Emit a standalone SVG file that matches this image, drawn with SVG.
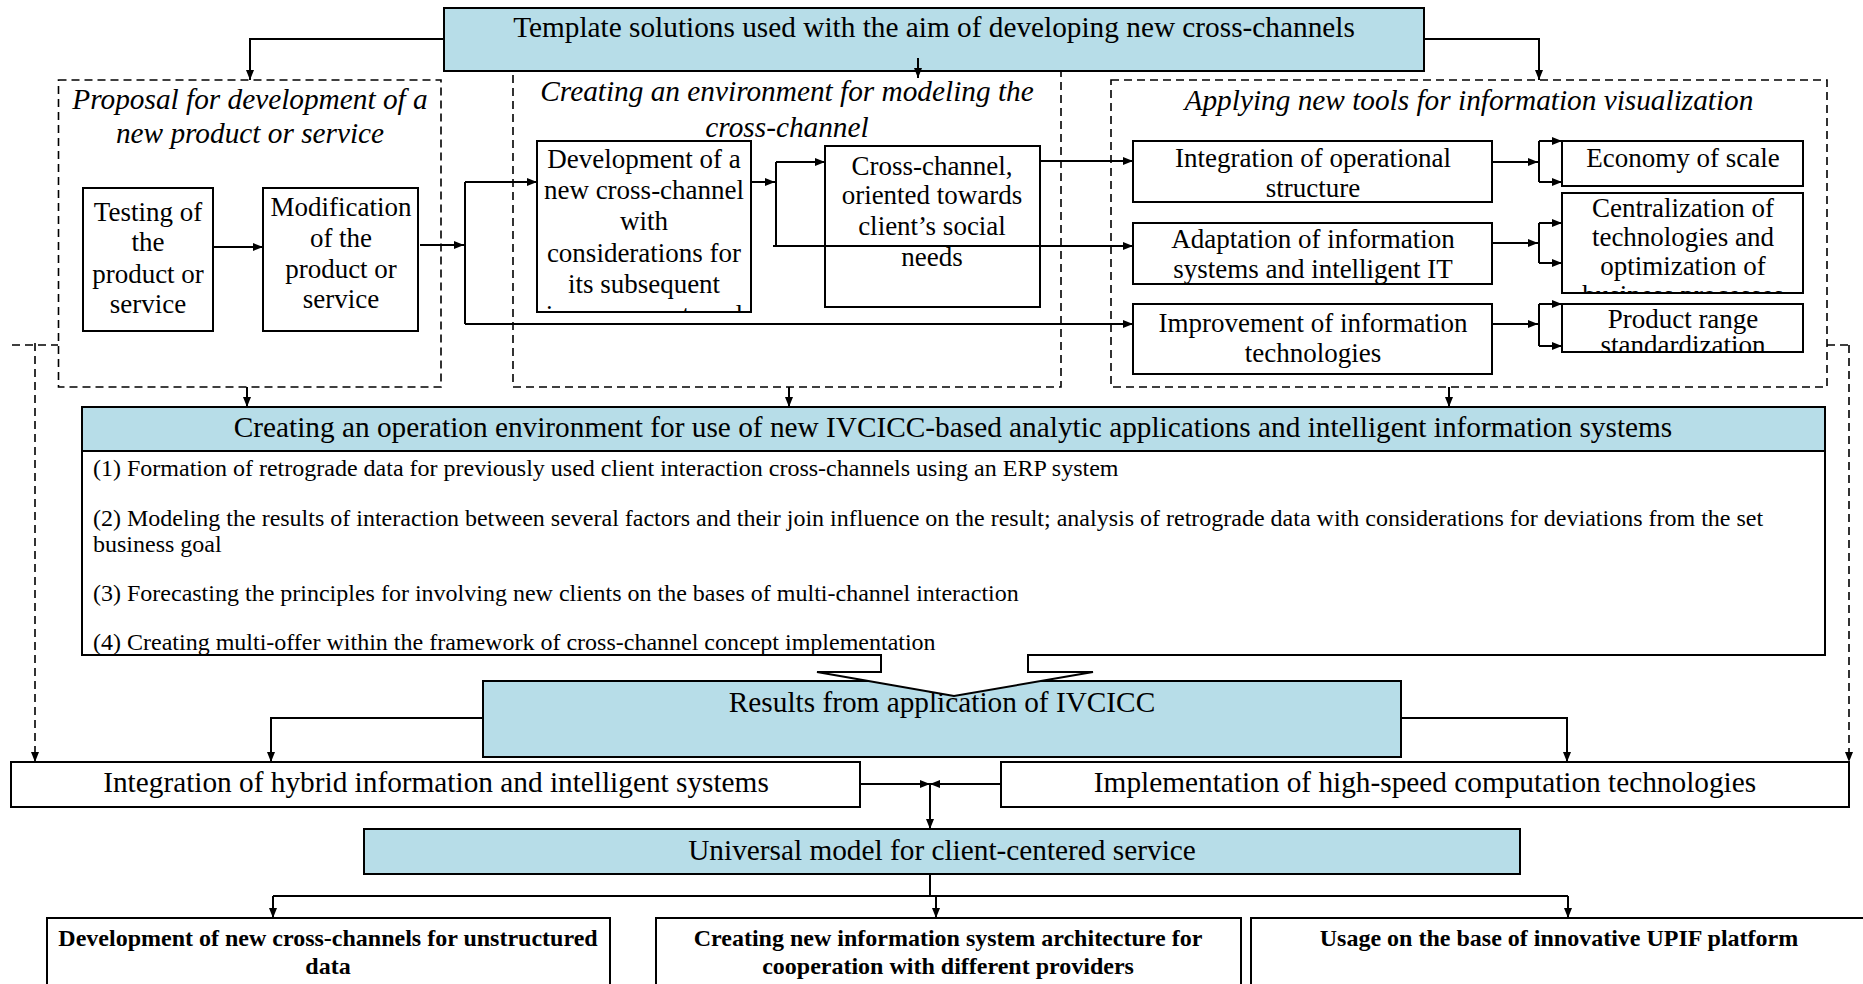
<svg xmlns="http://www.w3.org/2000/svg" width="1863" height="984" viewBox="0 0 1863 984">
<style>
text{font-family:"Liberation Serif","Times New Roman",serif;fill:#000;text-anchor:middle}
.t29{font-size:29.3px}
.t27{font-size:27px}
.i29{font-size:29.3px;font-style:italic}
.t24{font-size:24px;text-anchor:start}
.b24{font-size:24px;font-weight:bold}
.box{fill:#fff;stroke:#000;stroke-width:2}
.blue{fill:#b7dde8;stroke:#000;stroke-width:2}
.dash{fill:none;stroke:#000;stroke-width:1.6;stroke-dasharray:8 5}
.ln{fill:none;stroke:#000;stroke-width:2}
.dl{fill:none;stroke:#000;stroke-width:1.6;stroke-dasharray:8 5}
</style>
<defs>
<marker id="ah" viewBox="0 0 10 8" refX="10" refY="4" markerWidth="10" markerHeight="8" markerUnits="userSpaceOnUse" orient="auto"><path d="M0,0 L10,4 L0,8 z" fill="#000"/></marker>
<clipPath id="cDev"><rect x="537" y="141" width="214" height="171"/></clipPath>
<clipPath id="cAda"><rect x="1133" y="223" width="359" height="61"/></clipPath>
<clipPath id="cCen"><rect x="1562" y="193" width="241" height="100"/></clipPath>
<clipPath id="cPro"><rect x="1562" y="304" width="241" height="48"/></clipPath>
</defs>

<g id="group-proposal">
<rect class="dash" x="58.5" y="80" width="382.5" height="307"/>
<text class="i29" x="250" y="109">Proposal for development of a</text>
<text class="i29" x="250" y="143">new product or service</text>
</g>
<g id="group-environment">
<rect class="dash" x="513" y="71" width="548" height="316"/>
<text class="i29" x="787" y="101">Creating an environment for modeling the</text>
<text class="i29" x="787" y="137">cross-channel</text>
</g>
<g id="group-visualization">
<rect class="dash" x="1111" y="80" width="716" height="307"/>
<text class="i29" x="1469" y="110">Applying new tools for information visualization</text>
</g>

<g id="template">
<rect class="blue" x="444" y="8" width="980" height="63"/>
<text class="t29" x="934" y="37">Template solutions used with the aim of developing new cross-channels</text>
</g>

<g id="testing">
<rect class="box" x="83" y="188" width="130" height="143"/>
<text class="t27" x="148"><tspan x="148" y="221">Testing of</tspan><tspan x="148" y="251">the</tspan><tspan x="148" y="283">product or</tspan><tspan x="148" y="313">service</tspan></text>
</g>
<g id="modification">
<rect class="box" x="263" y="188" width="155" height="143"/>
<text class="t27" x="341"><tspan x="341" y="216">Modification</tspan><tspan x="341" y="247">of the</tspan><tspan x="341" y="278">product or</tspan><tspan x="341" y="308">service</tspan></text>
</g>
<g id="development">
<rect class="box" x="537" y="141" width="214" height="171"/>
<text class="t27" x="644" clip-path="url(#cDev)"><tspan x="644" y="168">Development of a</tspan><tspan x="644" y="199">new cross-channel</tspan><tspan x="644" y="230">with</tspan><tspan x="644" y="262">considerations for</tspan><tspan x="644" y="293">its subsequent</tspan><tspan x="644" y="324">improvement, and</tspan></text>
</g>
<g id="cross-channel">
<rect class="box" x="825" y="146" width="215" height="161"/>
<text class="t27" x="932"><tspan x="932" y="175">Cross-channel,</tspan><tspan x="932" y="204">oriented towards</tspan><tspan x="932" y="235">client’s social</tspan><tspan x="932" y="266">needs</tspan></text>
</g>
<g id="integration-operational">
<rect class="box" x="1133" y="141" width="359" height="61"/>
<text class="t27" x="1313"><tspan x="1313" y="167">Integration of operational</tspan><tspan x="1313" y="197">structure</tspan></text>
</g>
<g id="adaptation">
<rect class="box" x="1133" y="223" width="359" height="61"/>
<text class="t27" x="1313" clip-path="url(#cAda)"><tspan x="1313" y="248">Adaptation of information</tspan><tspan x="1313" y="278">systems and intelligent IT</tspan></text>
</g>
<g id="improvement">
<rect class="box" x="1133" y="304" width="359" height="70"/>
<text class="t27" x="1313"><tspan x="1313" y="332">Improvement of information</tspan><tspan x="1313" y="362">technologies</tspan></text>
</g>
<g id="economy">
<rect class="box" x="1562" y="141" width="241" height="45"/>
<text class="t27" x="1683" y="167">Economy of scale</text>
</g>
<g id="centralization">
<rect class="box" x="1562" y="193" width="241" height="100"/>
<text class="t27" x="1683" clip-path="url(#cCen)"><tspan x="1683" y="217">Centralization of</tspan><tspan x="1683" y="246">technologies and</tspan><tspan x="1683" y="275">optimization of</tspan><tspan x="1683" y="304">business processes</tspan></text>
</g>
<g id="product-range">
<rect class="box" x="1562" y="304" width="241" height="48"/>
<text class="t27" x="1683" clip-path="url(#cPro)"><tspan x="1683" y="328">Product range</tspan><tspan x="1683" y="354">standardization</tspan></text>
</g>

<g id="results">
<rect class="blue" x="483" y="681" width="918" height="76"/>
<text class="t29" x="942" y="712">Results from application of IVCICC</text>
</g>

<g id="operation-environment">
<path class="box" d="M82,451 H1825 V655 H1028 V672 H1093 L954,696 L817,672 H881 V655 H82 Z"/>
<rect class="blue" x="82" y="407" width="1743" height="44"/>
<text class="t29" x="953" y="437">Creating an operation environment for use of new IVCICC-based analytic applications and intelligent information systems</text>
<text class="t24" x="93" y="476">(1) Formation of retrograde data for previously used client interaction cross-channels using an ERP system</text>
<text class="t24" x="93" y="526">(2) Modeling the results of interaction between several factors and their join influence on the result; analysis of retrograde data with considerations for deviations from the set</text>
<text class="t24" x="93" y="552">business goal</text>
<text class="t24" x="93" y="601">(3) Forecasting the principles for involving new clients on the bases of multi-channel interaction</text>
<text class="t24" x="93" y="650">(4) Creating multi-offer within the framework of cross-channel concept implementation</text>
</g>

<g id="integration-hybrid">
<rect class="box" x="11" y="762" width="849" height="45"/>
<text class="t29" x="436" y="792">Integration of hybrid information and intelligent systems</text>
</g>
<g id="implementation">
<rect class="box" x="1001" y="762" width="848" height="45"/>
<text class="t29" x="1425" y="792">Implementation of high-speed computation technologies</text>
</g>
<g id="universal">
<rect class="blue" x="364" y="829" width="1156" height="45"/>
<text class="t29" x="942" y="860">Universal model for client-centered service</text>
</g>
<g id="unstructured">
<rect class="box" x="47" y="918" width="563" height="90"/>
<text class="b24" x="328"><tspan x="328" y="946">Development of new cross-channels for unstructured</tspan><tspan x="328" y="974">data</tspan></text>
</g>
<g id="architecture">
<rect class="box" x="656" y="918" width="585" height="90"/>
<text class="b24" x="948"><tspan x="948" y="946">Creating new information system architecture for</tspan><tspan x="948" y="974">cooperation with different providers</tspan></text>
</g>
<g id="upif">
<rect class="box" x="1251" y="918" width="620" height="90"/>
<text class="b24" x="1559" y="946">Usage on the base of innovative UPIF platform</text>
</g>

<g id="connectors">
<path class="ln" d="M444,39 H250 V80" marker-end="url(#ah)"/>
<path class="ln" d="M1424,39 H1539 V80" marker-end="url(#ah)"/>
<path class="ln" d="M918,58 V78" marker-end="url(#ah)"/>
<path class="ln" d="M213,247 H263" marker-end="url(#ah)"/>
<path class="ln" d="M420,245 H464" marker-end="url(#ah)"/>
<path class="ln" d="M465,182 V324"/>
<path class="ln" d="M465,182 H537" marker-end="url(#ah)"/>
<path class="ln" d="M465,324 H1133" marker-end="url(#ah)"/>
<path class="ln" d="M751,182 H775" marker-end="url(#ah)"/>
<path class="ln" d="M776,162 V246"/>
<path class="ln" d="M776,162 H825" marker-end="url(#ah)"/>
<path class="ln" d="M773,246 H1133" marker-end="url(#ah)"/>
<path class="ln" d="M1040,161 H1133" marker-end="url(#ah)"/>
<path class="ln" d="M1492,162 H1538" marker-end="url(#ah)"/>
<path class="ln" d="M1539,141 V182"/>
<path class="ln" d="M1539,141 H1562" marker-end="url(#ah)"/>
<path class="ln" d="M1539,182 H1562" marker-end="url(#ah)"/>
<path class="ln" d="M1492,243 H1538" marker-end="url(#ah)"/>
<path class="ln" d="M1539,223 V263"/>
<path class="ln" d="M1539,223 H1562" marker-end="url(#ah)"/>
<path class="ln" d="M1539,263 H1562" marker-end="url(#ah)"/>
<path class="ln" d="M1492,324 H1538" marker-end="url(#ah)"/>
<path class="ln" d="M1539,304 V346"/>
<path class="ln" d="M1539,304 H1562" marker-end="url(#ah)"/>
<path class="ln" d="M1539,346 H1562" marker-end="url(#ah)"/>
<path class="ln" d="M247,387 V407" marker-end="url(#ah)"/>
<path class="ln" d="M789,387 V407" marker-end="url(#ah)"/>
<path class="ln" d="M1449,387 V407" marker-end="url(#ah)"/>
<path class="ln" d="M483,718 H271 V762" marker-end="url(#ah)"/>
<path class="ln" d="M1401,718 H1567 V762" marker-end="url(#ah)"/>
<path class="ln" d="M860,784 H930" marker-end="url(#ah)"/>
<path class="ln" d="M1001,784 H930" marker-end="url(#ah)"/>
<path class="ln" d="M930,784 V829" marker-end="url(#ah)"/>
<path class="ln" d="M930,874 V896"/>
<path class="ln" d="M273,896 H1568"/>
<path class="ln" d="M273,896 V918" marker-end="url(#ah)"/>
<path class="ln" d="M936,896 V918" marker-end="url(#ah)"/>
<path class="ln" d="M1568,896 V918" marker-end="url(#ah)"/>
<path class="dl" d="M12,345 H58"/>
<path class="dl" d="M35,343 V762" marker-end="url(#ah)"/>
<path class="dl" d="M1827,345 H1852"/>
<path class="dl" d="M1849,345 V762" marker-end="url(#ah)"/>
</g>
</svg>
